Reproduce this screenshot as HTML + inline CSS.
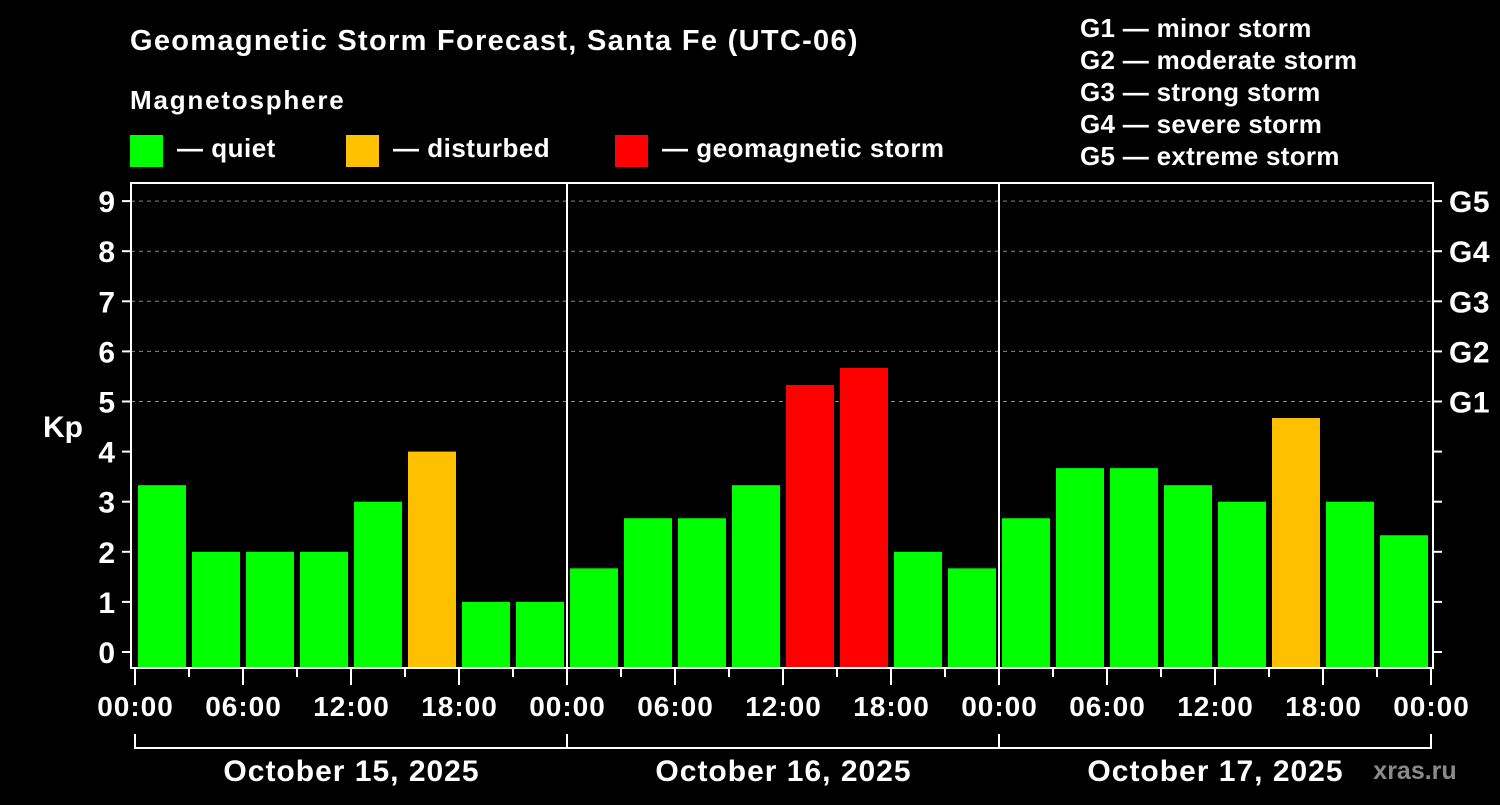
<!DOCTYPE html>
<html><head><meta charset="utf-8"><style>
body{margin:0;background:#000;}
svg text{font-family:"Liberation Sans",sans-serif;font-weight:bold;fill:#fff;}
</style></head><body>
<svg id="c" width="1500" height="800" viewBox="0 0 1500 800">
<rect width="1500" height="800" fill="#000"/>
<text x="130" y="50" font-size="29" letter-spacing="1.3">Geomagnetic Storm Forecast, Santa Fe (UTC-06)</text>
<text x="130" y="109" font-size="26" letter-spacing="1.8">Magnetosphere</text>
<g font-size="26" letter-spacing="0.5">
<g><rect x="130" y="135" width="33" height="32" fill="#00ff00"/><text x="177" y="157">— quiet</text></g>
<g><rect x="346" y="135" width="33" height="32" fill="#ffc000"/><text x="393" y="157">— disturbed</text></g>
<g><rect x="615" y="135" width="33" height="32" fill="#ff0000"/><text x="662" y="157">— geomagnetic storm</text></g>
</g>
<g font-size="26" letter-spacing="0.3">
<text x="1080" y="37">G1 — minor storm</text>
<text x="1080" y="69">G2 — moderate storm</text>
<text x="1080" y="101">G3 — strong storm</text>
<text x="1080" y="133">G4 — severe storm</text>
<text x="1080" y="165">G5 — extreme storm</text>
</g>
<text x="63" y="437" font-size="30" text-anchor="middle">Kp</text>
<text x="1415" y="779" font-size="25" style="fill:#8a8a8a" text-anchor="middle">xras.ru</text>
<g id="plot"></g>
</svg>
<script>
const kpValues=[3.33,2,2,2,3,4,1,1, 1.67,2.67,2.67,3.33,5.33,5.67,2,1.67, 2.67,3.67,3.67,3.33,3,4.67,3,2.33];
const dayLabels=["October 15, 2025","October 16, 2025","October 17, 2025"];
const hourLabels=["00:00","06:00","12:00","18:00"];
const yTicks=[0,1,2,3,4,5,6,7,8,9];
const gLabels=["G1","G2","G3","G4","G5"];
const NS="http://www.w3.org/2000/svg";
const g=document.getElementById('plot');
const x0=135,slot=54,L=131,R=1433,T=183,B=668;
const xs=i=>x0+slot*i;
const ys=v=>652-v*50.1;
function mk(t,a,p){const e=document.createElementNS(NS,t);for(const k in a)e.setAttribute(k,a[k]);(p||g).appendChild(e);return e;}
yTicks.forEach(v=>{
  const y=ys(v);
  if(v>=5){const l=mk('line',{x1:L,x2:R,y1:y,y2:y,stroke:'#888','stroke-dasharray':'4,4','stroke-width':1});
  
  }
  mk('line',{x1:L-9,x2:L,y1:y,y2:y,stroke:'#fff','stroke-width':2});
  mk('line',{x1:R,x2:R+9,y1:y,y2:y,stroke:'#fff','stroke-width':2});
  const t=mk('text',{x:L-16,y:y+11,'font-size':30,'text-anchor':'end'});t.textContent=v;
  
  
});
gLabels.forEach((s,i)=>{const t=mk('text',{x:1449,y:ys(5+i)+11,'font-size':30,'letter-spacing':0.5});t.textContent=s;
  
  });
kpValues.forEach((v,i)=>{
  const c=v>=5?'#ff0000':(v>=4?'#ffc000':'#00ff00');
  const r=mk('rect',{x:xs(i)+3,y:ys(v),width:48,height:B-ys(v),fill:c});
  
  
});
mk('rect',{x:L,y:T,width:R-L,height:B-T,fill:'none',stroke:'#fff','stroke-width':2});
for(let d=1;d<3;d++){mk('line',{x1:xs(8*d),x2:xs(8*d),y1:T,y2:B,stroke:'#fff','stroke-width':2});}
for(let i=0;i<=24;i++){
  const x=xs(i),maj=i%2==0;
  mk('line',{x1:x,x2:x,y1:B,y2:maj?685:677,stroke:'#fff','stroke-width':2});
  if(maj){const t=mk('text',{x:x+0.5,y:716,'font-size':28,'letter-spacing':1,'text-anchor':'middle'});t.textContent=hourLabels[(i/2)%4];
  
  }
}
mk('line',{x1:xs(0),x2:xs(24),y1:748,y2:748,stroke:'#fff','stroke-width':2});
for(let d=0;d<=3;d++)mk('line',{x1:xs(8*d),x2:xs(8*d),y1:734,y2:749,stroke:'#fff','stroke-width':2});
dayLabels.forEach((s,d)=>{const t=mk('text',{x:xs(8*d+4)+0.5,y:781,'font-size':30,'letter-spacing':1,'text-anchor':'middle'});t.textContent=s;
  
  });
</script>
</body></html>
